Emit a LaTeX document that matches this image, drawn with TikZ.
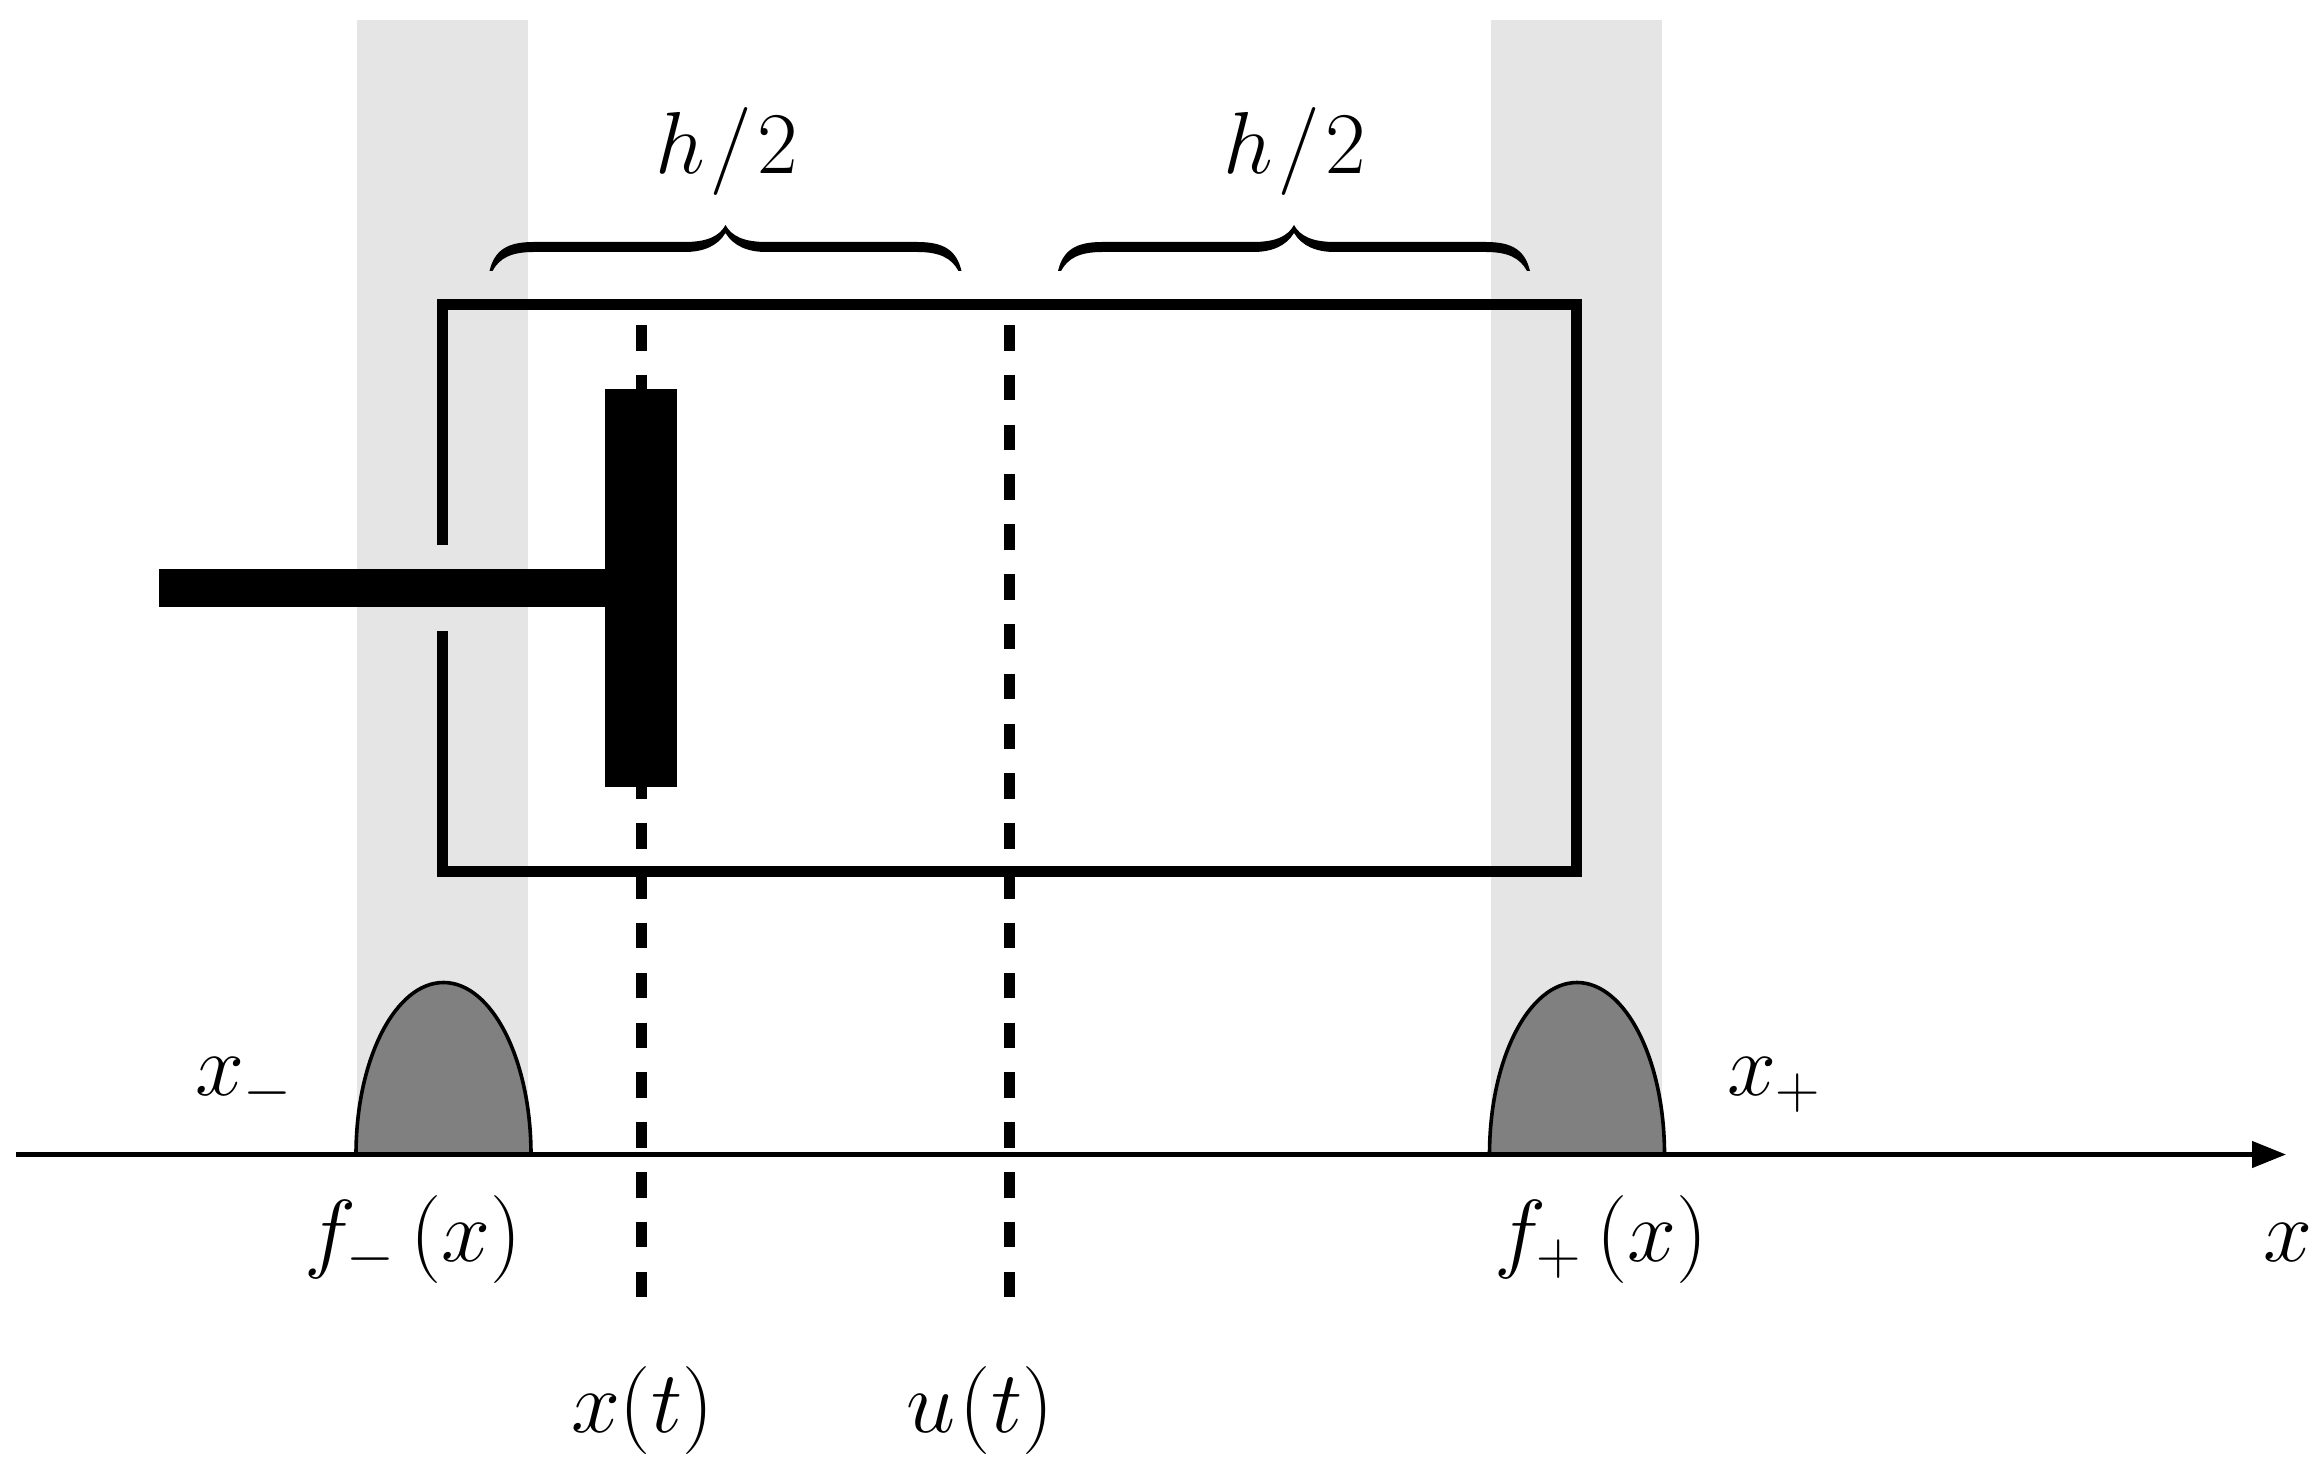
\RequirePackage{fix-cm}
\documentclass[tikz,border=0pt]{standalone}
\usetikzlibrary{arrows.meta}
\newcommand{\bracepath}[1]{%
  \fill[shift={(#1,0)}] (0,271) .. controls (5,250) and (18,242) .. (44,242) -- (195,242)
    .. controls (218,242) and (230,236) .. (236,225)
    .. controls (242,236) and (254,242) .. (277,242) -- (428,242)
    .. controls (454,242) and (467,250) .. (472,271) -- (469,271)
    .. controls (462,258) and (450,252) .. (428,252) -- (277,252)
    .. controls (258,252) and (244,246) .. (236,233)
    .. controls (228,246) and (214,252) .. (195,252) -- (44,252)
    .. controls (22,252) and (10,258) .. (3,271) -- cycle;}
\tikzset{
  band/.style={fill=black!10,draw=none},
  wall/.style={draw=black,line width=5.5pt,line cap=butt},
  hump/.style={fill=black!50,draw=black,line width=1.8pt},
  solidblock/.style={fill=black,draw=none},
  dashline/.style={draw=black,line width=5.5pt,dash pattern=on 12.75pt off 12.165pt},
  axisline/.style={draw=black,line width=2.2pt,-{Triangle[length=17pt,width=13pt]}},
  lab/.style={anchor=base west,inner sep=0pt,outer sep=0pt,font=\fontsize{44}{50}\selectfont}
}
\begin{document}
\begin{tikzpicture}[x=0.5pt,y=-0.5pt]
\useasboundingbox (0,0) rectangle (2317,1466);
% grey bands
\fill[band] (357,20) rectangle (528,1154);
\fill[band] (1491,20) rectangle (1662,1154);
% dashed centre lines
\coordinate (xtop) at (641.5,325); \coordinate (xbot) at (641.5,1297.5);
\coordinate (utop) at (1009.5,325); \coordinate (ubot) at (1009.5,1297.5);
\draw[dashline] (xtop) -- (xbot);
\draw[dashline] (utop) -- (ubot);
% cylinder
\coordinate (wallA) at (442.5,545); \coordinate (tl) at (442.5,304.5); \coordinate (tr) at (1576.5,304.5);
\coordinate (br) at (1576.5,871.5); \coordinate (bl) at (442.5,871.5); \coordinate (wallB) at (442.5,631);
\draw[wall,line join=miter] (wallA) -- (tl) -- (tr) -- (br) -- (bl) -- (wallB);
% piston
\fill[solidblock] (605,389) rectangle (677,787);
\fill[solidblock] (159,569) rectangle (605,607);
% humps
\draw[hump] (356,1154.5) arc[start angle=180,end angle=360,x radius=87.5,y radius=172] -- cycle;
\draw[hump] (1489.5,1154.5) arc[start angle=180,end angle=360,x radius=87.5,y radius=172] -- cycle;
% axis
\coordinate (axL) at (16,1154.5); \coordinate (axR) at (2286,1154.5);
\draw[axisline] (axL) -- (axR);
% braces
\bracepath{489.5}
\bracepath{1058}
% labels
\node[lab] (hA) at (655,174) {$h\mkern1mu/\mkern1mu2$};
\node[lab] (hB) at (1223,174) {$h\mkern1mu/\mkern1mu2$};
\node[lab] (xm) at (195,1095) {$x_-$};
\node[lab] (xp) at (1727,1095) {$x_+$};
\node[lab] (fm) at (304,1261) {$f_-\mkern3mu(x)$};
\node[lab] (fp) at (1494,1261) {$f_+\mkern3mu(x)$};
\node[lab] (xx) at (2263,1261) {$x$};
\node[lab] (xt) at (571,1432) {$x(t)$};
\node[lab] (ut) at (906,1432) {$u\mkern1mu(t)$};
\end{tikzpicture}
\end{document}
